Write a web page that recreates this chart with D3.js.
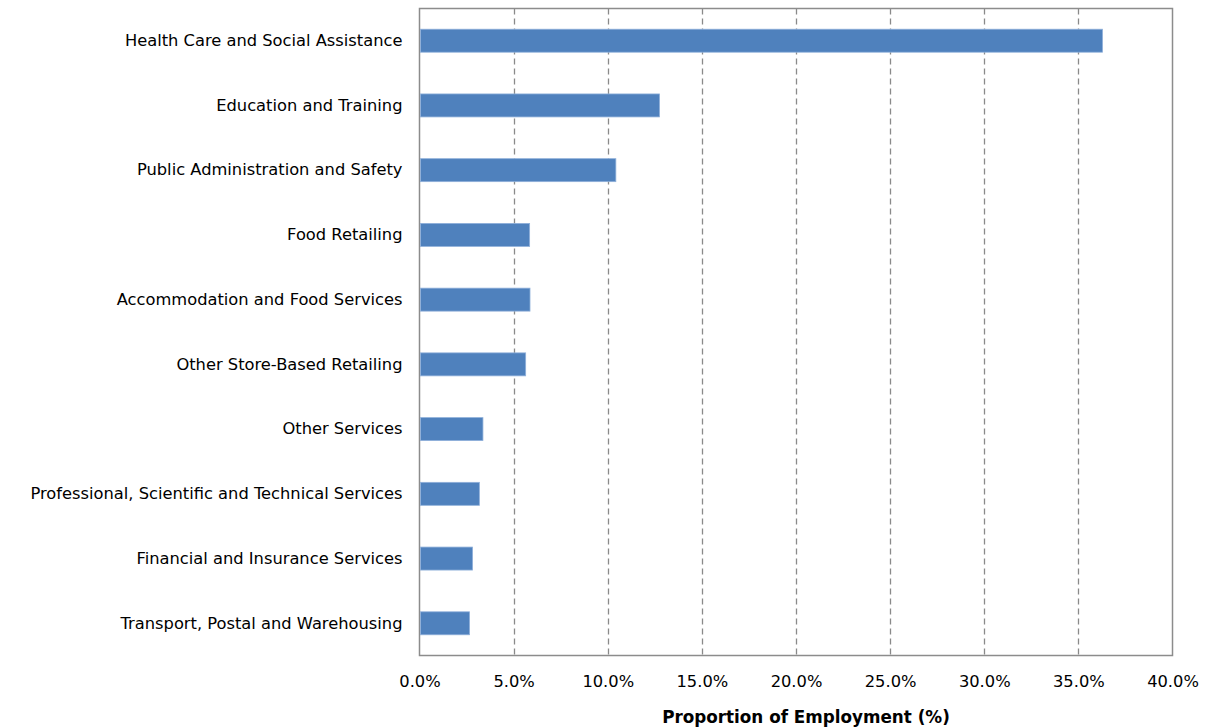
<!DOCTYPE html>
<html>
<head>
<meta charset="utf-8">
<script src="https://cdn.jsdelivr.net/npm/d3@7"></script>
<style>
  html, body { margin: 0; padding: 0; background: #fff; }
  svg { display: block; font-family: Tahoma, "DejaVu Sans", sans-serif; }
</style>
</head>
<body>
<svg id="chart" width="1216" height="727"></svg>
<script>
// Share of employment by industry
const industries = [
  "Health Care and Social Assistance",
  "Education and Training",
  "Public Administration and Safety",
  "Food Retailing",
  "Accommodation and Food Services",
  "Other Store-Based Retailing",
  "Other Services",
  "Professional, Scientific and Technical Services",
  "Financial and Insurance Services",
  "Transport, Postal and Warehousing"
];
const shares = [36.28, 12.75, 10.43, 5.85, 5.87, 5.64, 3.37, 3.18, 2.82, 2.66];
const xTicks = [0, 5, 10, 15, 20, 25, 30, 35, 40];
const xTitle = "Proportion of Employment (%)";

const rows = industries.map((name, i) => ({ name, value: shares[i] }));
const fontStack = "Tahoma, 'DejaVu Sans', sans-serif";

const svg = d3.select("#chart");
const m = { left: 419.5, right: 1172.5, top: 8.5, bottom: 655.5 };

const x = d3.scaleLinear().domain([0, 40]).range([m.left, m.right]);
const y = d3.scaleBand().domain(industries).range([m.top, m.bottom]).paddingInner(0.645).paddingOuter(0.32);

// dashed vertical gridlines
svg.append("g")
  .selectAll("line")
  .data(xTicks.filter(t => t > 0 && t < 40))
  .join("line")
  .attr("x1", d => Math.round(x(d)) + 0.5)
  .attr("x2", d => Math.round(x(d)) + 0.5)
  .attr("y1", m.top)
  .attr("y2", m.bottom + 1)
  .attr("stroke", "#8a8a8a")
  .attr("stroke-width", 1.3)
  .attr("stroke-dasharray", "6,4");

// plot frame
svg.append("rect")
  .attr("x", m.left).attr("y", m.top)
  .attr("width", m.right - m.left).attr("height", m.bottom - m.top)
  .attr("fill", "none")
  .attr("stroke", "#8c8c8c")
  .attr("stroke-width", 1.5);

// bars
svg.append("g")
  .selectAll("rect")
  .data(rows)
  .join("rect")
  .attr("x", x(0) + 1)
  .attr("y", d => y(d.name))
  .attr("width", d => x(d.value) - x(0) - 1)
  .attr("height", y.bandwidth())
  .attr("fill", "#4f81bd")
  .attr("stroke", "#8fb0da")
  .attr("stroke-width", 0.8);

// bottom axis labels
const xAxis = d3.axisBottom(x)
  .tickValues(xTicks)
  .tickFormat(d => d.toFixed(1) + "%")
  .tickSize(0)
  .tickPadding(20);

const gx = svg.append("g")
  .attr("transform", `translate(0,${m.bottom})`)
  .call(xAxis);
gx.select(".domain").remove();
gx.selectAll("text")
  .attr("font-size", 16.3)
  .attr("fill", "#000")
  .style("font-family", fontStack);

// category labels
const yAxis = d3.axisLeft(y).tickSize(0).tickPadding(17);
const gy = svg.append("g")
  .attr("transform", `translate(${m.left},0)`)
  .call(yAxis);
gy.select(".domain").remove();
gy.selectAll("text")
  .attr("font-size", 16.3)
  .attr("fill", "#000")
  .style("font-family", fontStack);

// axis title
svg.append("text")
  .attr("x", 806)
  .attr("y", 723)
  .attr("text-anchor", "middle")
  .attr("font-size", 16.8)
  .attr("font-weight", "bold")
  .style("font-family", fontStack)
  .text(xTitle);
</script>
</body>
</html>
